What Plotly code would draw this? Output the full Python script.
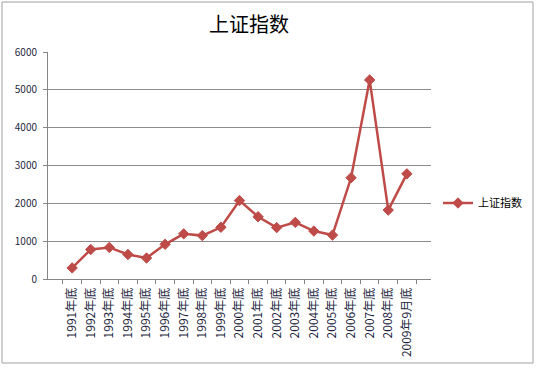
import plotly.graph_objects as go

categories = ["1991年底", "1992年底", "1993年底", "1994年底", "1995年底", "1996年底",
              "1997年底", "1998年底", "1999年底", "2000年底", "2001年底", "2002年底",
              "2003年底", "2004年底", "2005年底", "2006年底", "2007年底", "2008年底",
              "2009年9月底"]
values = [293, 780, 834, 648, 555, 917, 1194, 1147, 1367, 2073, 1646, 1358,
          1497, 1267, 1161, 2675, 5262, 1821, 2779]
series_name = "上证指数"
y_ticks = [0, 1000, 2000, 3000, 4000, 5000, 6000]

W, H = 560, 369
L, R, T, B = 48, 431, 52, 279
pw, ph = R - L, B - T

def px(x):
    return (x - L) / pw

def py(y):
    return (B - y) / ph

red = "#BE4B48"
font = "Noto Sans CJK SC, Noto Sans, sans-serif"

fig = go.Figure()
fig.add_trace(go.Scatter(
    x=categories, y=values, name=series_name, mode="lines+markers",
    line=dict(color=red, width=2.5),
    marker=dict(symbol="diamond", size=8, color=red, line=dict(color=red, width=1)),
))

fig.update_layout(
    width=W, height=H,
    margin=dict(l=L, r=W - R, t=T, b=H - B, pad=0),
    paper_bgcolor="white", plot_bgcolor="white",
    title=dict(text=series_name, x=249 / W, xanchor="center", y=1 - 25 / H, yanchor="middle",
               font=dict(family=font, size=20, color="#000000")),
    showlegend=True,
    legend=dict(x=px(438), y=py(203), xanchor="left", yanchor="middle",
                font=dict(family=font, size=11, color="#000000"),
                bgcolor="rgba(0,0,0,0)", itemwidth=30),
    xaxis=dict(type="category", tickangle=-90, tickson="boundaries",
               ticks="outside", ticklen=4, tickcolor="#868686",
               showline=True, linecolor="#868686", linewidth=1,
               showgrid=False, zeroline=False, ticklabelstandoff=3,
               tickfont=dict(family=font, size=12, color="#1F1F3F")),
    yaxis=dict(range=[0, 6000], tickvals=y_ticks, ticks="outside", ticklen=4,
               tickcolor="#868686", showline=True, linecolor="#868686", linewidth=1,
               showgrid=True, gridcolor="#8C8C8C", gridwidth=1, zeroline=False,
               ticklabelstandoff=4,
               tickfont=dict(family=font, size=10, color="#1F1F3F")),
    shapes=[dict(type="rect", xref="paper", yref="paper",
                 x0=px(2), x1=px(533), y0=py(363), y1=py(2),
                 line=dict(color="#A0A0A0", width=1), layer="below")],
)

fig.write_html("out.html", config={"displayModeBar": False})

with open("out.html", encoding="utf-8") as f:
    html = f.read()
html = html.replace("<body>", '<body style="margin:0;padding:0;">', 1)
with open("out.html", "w", encoding="utf-8") as f:
    f.write(html)
